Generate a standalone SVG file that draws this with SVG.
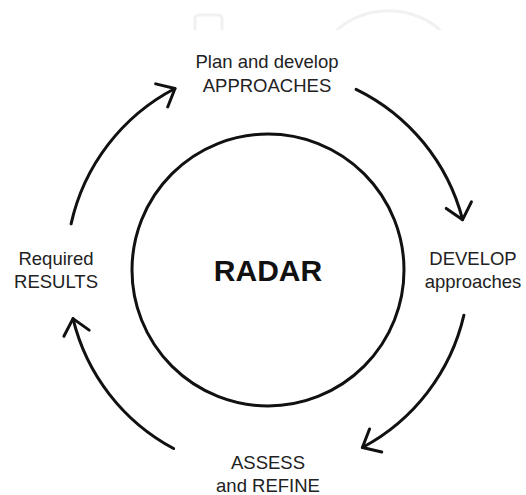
<svg xmlns="http://www.w3.org/2000/svg" width="526" height="495" viewBox="0 0 526 495">
<style>
.lbl{font-family:"Liberation Sans",Arial,sans-serif;font-size:18.5px;fill:#222;text-anchor:middle}
.title{font-family:"Liberation Sans",Arial,sans-serif;font-size:30px;font-weight:bold;fill:#111;text-anchor:middle}
.arc{fill:none;stroke:#111;stroke-width:3;stroke-linecap:round}
.wm{fill:none;stroke:#f1f1f1;stroke-width:3}
</style>
<defs>
<marker id="chev" markerUnits="userSpaceOnUse" markerWidth="40" markerHeight="40" viewBox="-20 -20 40 40" refX="0" refY="0" orient="auto">
<path d="M-15,-13 L0,0 L-15,13" fill="none" stroke="#111" stroke-width="3" stroke-linecap="round" stroke-linejoin="round"/>
</marker>
<clipPath id="wmclip"><rect x="0" y="0" width="526" height="30"/></clipPath>
</defs>
<rect width="526" height="495" fill="#fff"/>
<g id="watermark" clip-path="url(#wmclip)">
<rect class="wm" x="195" y="15" width="27" height="30" rx="4"/>
<path class="wm" d="M335,32 A70,60 0 0 1 442,32"/>
</g>
<g id="connectors">
<path class="arc" d="M356.1,89.3 A201,201 0 0 1 462.6,219.7" marker-end="url(#chev)"/>
<path class="arc" d="M463.9,315.2 A201,201 0 0 1 362.4,447.5" marker-end="url(#chev)"/>
<path class="arc" d="M173.6,448.5 A201,201 0 0 1 73.0,318.6" marker-end="url(#chev)"/>
<path class="arc" d="M71.1,223.8 A202,202 0 0 1 175,88.5" marker-end="url(#chev)"/>
</g>
<g id="center">
<circle cx="268" cy="270" r="136" fill="none" stroke="#111" stroke-width="3"/>
<text class="title" x="268" y="281">RADAR</text>
</g>
<g id="plan">
<text class="lbl" x="267" y="68">Plan and develop</text>
<text class="lbl" x="267" y="92">APPROACHES</text>
</g>
<g id="develop">
<text class="lbl" x="473" y="265">DEVELOP</text>
<text class="lbl" x="473" y="288">approaches</text>
</g>
<g id="assess">
<text class="lbl" x="268" y="469">ASSESS</text>
<text class="lbl" x="268" y="492">and REFINE</text>
</g>
<g id="results">
<text class="lbl" x="56" y="265">Required</text>
<text class="lbl" x="56" y="288">RESULTS</text>
</g>
</svg>
